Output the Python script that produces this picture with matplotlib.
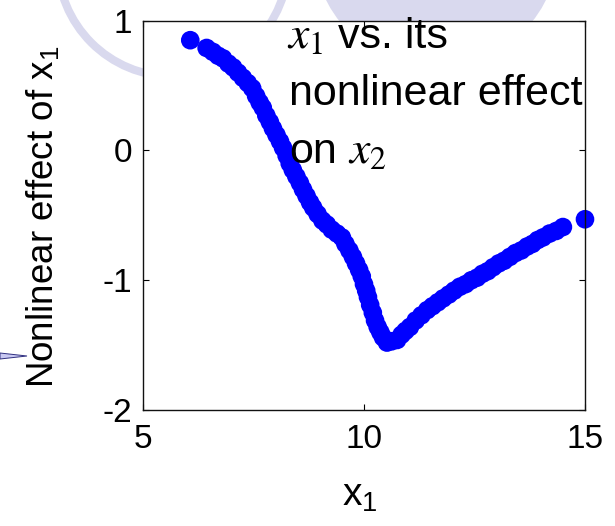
import matplotlib
matplotlib.use("Agg")
import matplotlib.pyplot as plt
from matplotlib import font_manager
from matplotlib.patches import Circle, Polygon

# x1 values and the estimated nonlinear effect at each one
x1 = [6.07, 6.44, 6.58, 6.70, 6.81, 6.93, 7.04, 7.15, 7.26, 7.37,
      7.47, 7.56, 7.64, 7.71, 7.79, 7.87, 7.94, 8.02, 8.10, 8.17,
      8.25, 8.32, 8.39, 8.47, 8.55, 8.62, 8.70, 8.78, 8.85, 8.95,
      9.06, 9.16, 9.27, 9.39, 9.50, 9.58, 9.67, 9.75, 9.82, 9.89,
      9.95, 10.00, 10.05, 10.09, 10.14, 10.20, 10.25, 10.31, 10.37, 10.43,
      10.52, 10.63, 10.75, 10.85, 10.94, 11.04, 11.17, 11.30, 11.43, 11.55,
      11.67, 11.79, 11.92, 12.04, 12.17, 12.30, 12.43, 12.56, 12.68, 12.80,
      12.92, 13.05, 13.17, 13.30, 13.43, 13.56, 13.69, 13.81, 13.93, 14.05,
      14.20, 14.35, 14.50, 15.00]
effect = [0.85, 0.79, 0.76, 0.73, 0.71, 0.67, 0.64, 0.60, 0.56, 0.52,
          0.48, 0.42, 0.37, 0.33, 0.27, 0.22, 0.17, 0.12, 0.07, 0.02,
          -0.04, -0.10, -0.15, -0.20, -0.25, -0.30, -0.35, -0.40, -0.44, -0.49,
          -0.54, -0.57, -0.61, -0.64, -0.67, -0.72, -0.77, -0.82, -0.87, -0.92,
          -0.97, -1.03, -1.08, -1.13, -1.19, -1.25, -1.31, -1.36, -1.40, -1.44,
          -1.48, -1.47, -1.46, -1.42, -1.39, -1.36, -1.31, -1.27, -1.23, -1.20,
          -1.17, -1.14, -1.11, -1.08, -1.05, -1.03, -1.00, -0.98, -0.95, -0.93,
          -0.90, -0.87, -0.85, -0.82, -0.79, -0.77, -0.74, -0.72, -0.69, -0.67,
          -0.64, -0.62, -0.59, -0.53]

xticks = [5, 10, 15]
yticks = [-2, -1, 0, 1]


def main():
    plt.rcParams['font.family'] = 'Liberation Sans'
    plt.rcParams['mathtext.fontset'] = 'stix'
    plt.rcParams['axes.unicode_minus'] = False

    names = {f.name for f in font_manager.fontManager.ttflist}
    if 'Liberation Sans Narrow' in names:
        note_font, note_size = 'Liberation Sans Narrow', 37
    else:
        note_font, note_size = 'Liberation Sans', 31

    fig = plt.figure(figsize=(6.15, 5.26), dpi=100, facecolor='white')

    # lavender decorations behind the plot, in pixel coordinates
    bg = fig.add_axes([0, 0, 1, 1], zorder=-1)
    bg.set_xlim(0, 615)
    bg.set_ylim(526, 0)
    bg.axis('off')
    bg.add_patch(Circle((173, -39), 115.5, fill=False, lw=5.8, ec='#d9d9ee'))
    bg.add_patch(Circle((436, -55), 123, fc='#d9d9ee', ec='none'))
    bg.add_patch(Polygon([(0, 353), (27, 356), (0, 359)], closed=True,
                         fc='#c8c8f2', ec='#303080', lw=0.7))

    ax = fig.add_axes([0.2325, 0.2205, 0.7187, 0.7401], facecolor='white')
    ax.scatter(x1, effect, s=180, c='#0000ff', edgecolors='none', clip_on=False)

    ax.set_xlim(5, 15)
    ax.set_ylim(-2, 1)
    ax.set_xticks(xticks)
    ax.set_yticks(yticks)
    ax.tick_params(direction='in', top=True, right=True, length=4, width=0.8,
                   labelsize=24, pad=8)
    ax.tick_params(axis='x', pad=10)
    for sp in ax.spines.values():
        sp.set_linewidth(1.0)
        sp.set_color('#111111')

    ax.set_xlabel(r'$\mathregular{x_1}$', fontsize=28)
    ax.xaxis.set_label_coords(0.49, -0.175)
    ax.set_ylabel(r'Nonlinear effect of $\mathregular{x_1}$', fontsize=26.5)
    ax.yaxis.set_label_coords(-0.185, 0.495)

    # three-line note; the variable names are set in a larger serif italic
    kw = dict(transform=ax.transAxes, va='baseline', ha='left')
    ax.text(0.325, 0.930, r'$x_{\mathit{1}}$', fontsize=33, **kw)
    ax.text(0.442, 0.930, 'vs. its', family=note_font, fontsize=note_size, **kw)
    ax.text(0.330, 0.783, 'nonlinear effect', family=note_font,
            fontsize=note_size, **kw)
    ax.text(0.332, 0.634, 'on', family=note_font, fontsize=note_size, **kw)
    ax.text(0.463, 0.634, r'$x_{2}$', fontsize=33, **kw)

    fig.savefig('out.png', dpi=100, facecolor='white')


if __name__ == "__main__":
    main()
